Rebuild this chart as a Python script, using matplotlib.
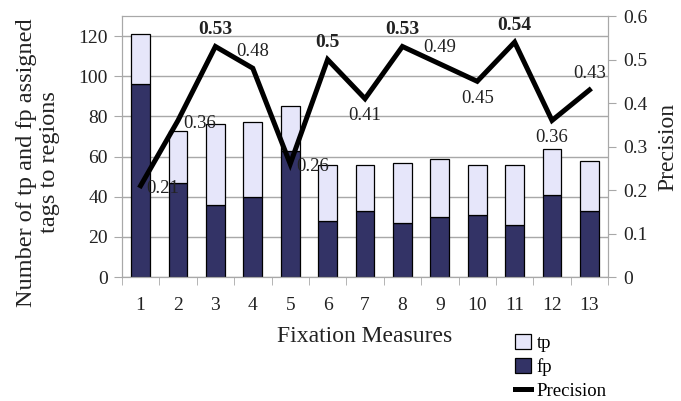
import numpy as np
import matplotlib.pyplot as plt
from matplotlib.patches import Patch
from matplotlib.lines import Line2D

plt.rcParams['font.family'] = ['Liberation Serif', 'DejaVu Serif']

measures = [str(i) for i in range(1, 14)]
fp = [96, 47, 36, 40, 63, 28, 33, 27, 30, 31, 26, 41, 33]
tp = [25, 26, 40, 37, 22, 28, 23, 30, 29, 25, 30, 23, 25]
precision = [0.21, 0.36, 0.53, 0.48, 0.26, 0.5, 0.41, 0.53, 0.49, 0.45, 0.54, 0.36, 0.43]
label_side = ['right', 'right', 'above', 'above', 'right', 'above', 'below',
              'above', 'above', 'below', 'above', 'below', 'above']

dark = '#333366'
light = '#e6e6fa'
grey = '#a8a8a8'
textc = '#222222'

fig = plt.figure(figsize=(6.81, 4.01), dpi=100)
ax = fig.add_axes([0.179, 0.309, 0.714, 0.651])
x = np.arange(len(measures))

ax.bar(x, fp, width=0.5, color=dark, edgecolor='black', linewidth=0.9, zorder=2)
ax.bar(x, tp, width=0.5, bottom=fp, color=light, edgecolor='black', linewidth=0.9, zorder=2)

ax.set_xlim(-0.5, len(measures) - 0.5)
ax.set_ylim(0, 130)
ax.set_yticks(np.arange(0, 121, 20))
ax.set_xticks(x)
ax.set_xticklabels(measures)
ax.set_xticks(np.arange(-0.5, len(measures), 1), minor=True)
ax.tick_params(axis='x', which='major', length=0, pad=14, labelsize=14, labelcolor=textc)
ax.tick_params(axis='x', which='minor', length=6, color=grey)
ax.tick_params(axis='y', length=6, color=grey, labelsize=14, pad=4, labelcolor=textc)
ax.yaxis.grid(True, color=grey, linewidth=1, zorder=0)
ax.set_axisbelow(True)
for s in ax.spines.values():
    s.set_color(grey)

ax.set_xlabel('Fixation Measures', fontsize=17, color=textc, labelpad=9)
ax.set_ylabel('Number of tp and fp assigned\ntags to regions', fontsize=17.5,
              color=textc, linespacing=1.12)
ax.yaxis.set_label_coords(-0.128, 0.44)

ax2 = ax.twinx()
ax2.plot(x, precision, color='black', linewidth=3.6, solid_joinstyle='miter', zorder=3)
ax2.set_ylim(0, 0.6)
ax2.set_yticks(np.arange(0, 0.61, 0.1))
ax2.set_yticklabels(['0', '0.1', '0.2', '0.3', '0.4', '0.5', '0.6'])
ax2.tick_params(axis='y', length=6, color=grey, labelsize=14, pad=5, labelcolor=textc)
for s in ax2.spines.values():
    s.set_color(grey)
ax2.set_ylabel('Precision', fontsize=17, color=textc, labelpad=7)

for xi, p, side in zip(x, precision, label_side):
    txt = ('%.2f' % p).rstrip('0')
    bold = p >= 0.5
    if side == 'right':
        off, ha, va = (4, -2), 'left', 'center'
    elif side == 'above':
        off, ha, va = (0, 6), 'center', 'bottom'
    else:
        off, ha, va = (0, -6), 'center', 'top'
    ax2.annotate(txt, (xi, p), xytext=off, textcoords='offset points',
                 ha=ha, va=va, fontsize=14 if bold else 13.5,
                 fontweight='bold' if bold else 'normal', color=textc)

handles = [Patch(facecolor=light, edgecolor='black', linewidth=0.9),
           Patch(facecolor=dark, edgecolor='black', linewidth=0.9),
           Line2D([], [], color='black', linewidth=3.6)]
fig.legend(handles, ['tp', 'fp', 'Precision'], loc='upper left',
           bbox_to_anchor=(0.745, 0.185), frameon=False, fontsize=13.5,
           handlelength=0.85, handleheight=0.85, handletextpad=0.3,
           labelspacing=0.32, borderaxespad=0)

fig.savefig('out.png', dpi=100)
